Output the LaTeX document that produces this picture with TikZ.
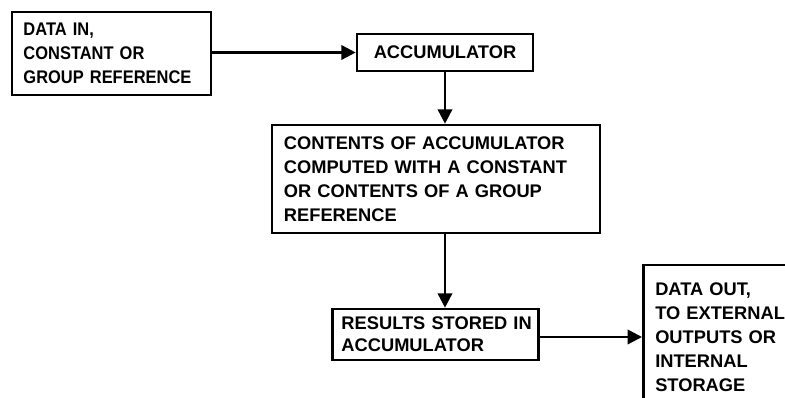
\documentclass[tikz,border=0pt]{standalone}
\usepackage{fontspec}
\setmainfont{Liberation Sans}
\newfontfamily\narrowsans[FakeStretch=0.9]{Liberation Sans}
\usetikzlibrary{arrows.meta,positioning}
\tikzset{
  blk/.style={draw,line width=1.8pt,inner xsep=0.3cm,inner ysep=0pt,align=left,
    font=\bfseries\fontsize{13}{17}\selectfont},
  arr/.style={-{Triangle[length=0.36cm,width=0.36cm]},line width=1.8pt},
}
\begin{document}
\begin{tikzpicture}[x=0.025cm,y=-0.025cm]
\useasboundingbox (0,0) rectangle (785,398);
% boxes
\node[blk,font=\narrowsans\bfseries\fontsize{13}{17}\selectfont,text width=4.4cm,
  inner xsep=0.29cm,minimum height=2.075cm] (datain) at (111.5,53.5)
  {DATA IN,\\CONSTANT OR\\GROUP REFERENCE};
\node[blk,minimum width=4.4cm,minimum height=0.925cm,align=center] (accum) at (445,52.5) {ACCUMULATOR};
\node[blk,text width=7.6cm,minimum height=2.7cm] (compute) at (436,179)
  {CONTENTS OF ACCUMULATOR\\COMPUTED WITH A CONSTANT\\OR CONTENTS OF A GROUP\\REFERENCE};
\node[blk,font=\bfseries\fontsize{13}{15.5}\selectfont,text width=4.7cm,inner xsep=0.225cm,
  minimum height=1.275cm] (results) at (435.5,334.5)
  {\mbox{RESULTS STORED IN}\\ACCUMULATOR};
\node[blk,text width=3.9cm,minimum height=3.6cm,anchor=west] (dataout) at (642,337)
  {DATA OUT,\\TO EXTERNAL\\OUTPUTS OR\\INTERNAL\\STORAGE};
% connectors
\draw[arr] (datain.east |- accum.west) -- (accum.west);
\draw[arr] (accum.south) -- (accum.south |- compute.north);
\draw[arr] (accum.south |- compute.south) -- (accum.south |- results.north);
\draw[arr] (results.east |- dataout.west) -- (dataout.west);
\end{tikzpicture}
\end{document}
